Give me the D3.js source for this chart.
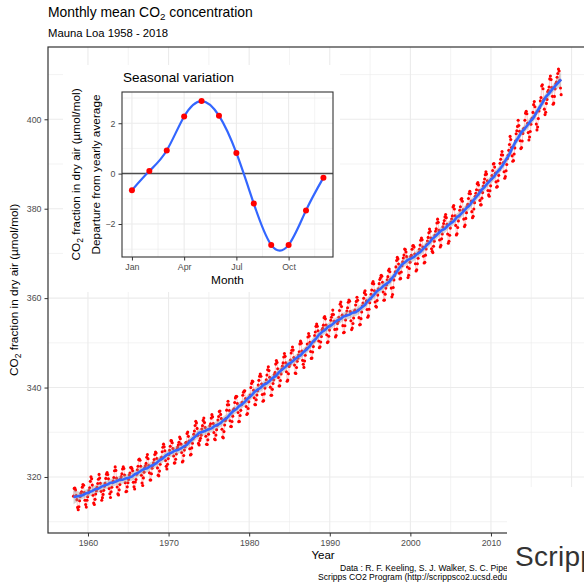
<!DOCTYPE html>
<html><head><meta charset="utf-8">
<script src="https://cdn.jsdelivr.net/npm/d3@7"></script>
<style>
body{margin:0;background:#fff}
svg{display:block}
text{font-family:"Liberation Sans",Arial,Helvetica,sans-serif}
</style>
</head><body>
<svg id="c" width="584" height="585"></svg>
<script>
// ---------------- DATA ----------------
const startYear = 1958, startMonth = 3;
const co2_1950s = [
 [315.71,317.45,317.50,317.10,315.86,314.93,313.20,312.66,313.33,314.67],
 [315.62,316.38,316.71,317.72,318.29,318.15,316.54,314.80,313.84,313.26,314.80,315.58]
];
const co2_1960s = [
 [316.43,316.97,317.58,319.02,320.03,319.59,318.18,315.91,314.16,313.83,315.00,316.19],
 [316.93,317.70,318.54,319.48,320.58,319.77,318.57,316.79,314.80,315.38,316.10,317.01],
 [317.94,318.56,319.68,320.63,321.01,320.55,319.58,317.40,316.26,315.42,316.69,317.69],
 [318.74,319.08,319.86,321.39,322.25,321.47,319.74,317.77,316.21,315.99,317.12,318.31],
 [319.57,320.07,320.73,321.77,322.25,321.89,320.44,318.70,316.70,316.79,317.79,318.71],
 [319.44,320.44,320.89,322.13,322.16,321.87,321.39,318.81,317.81,317.30,318.87,319.42],
 [320.62,321.59,322.39,323.87,324.01,323.75,322.39,320.37,318.64,318.10,319.79,321.08],
 [322.07,322.50,323.04,324.42,325.00,324.09,322.55,320.92,319.31,319.31,320.72,321.96],
 [322.57,323.15,323.89,325.02,325.57,325.36,324.14,322.03,320.41,320.25,321.31,322.84],
 [324.00,324.42,325.64,326.66,327.34,326.76,325.88,323.67,322.38,321.78,322.85,324.11]
];
const co2_1970s = [
 [325.03,325.99,326.87,328.13,328.07,327.66,326.35,324.69,323.10,323.16,323.98,325.13],
 [326.17,326.68,327.18,327.78,328.92,328.57,327.34,325.46,323.36,323.57,324.80,326.01],
 [326.77,327.63,327.75,329.72,330.07,329.09,328.05,326.32,324.93,325.06,326.50,327.55],
 [328.54,329.56,330.30,331.50,332.48,332.07,330.87,329.31,327.51,327.18,328.16,328.64],
 [329.35,330.71,331.48,332.65,333.19,332.16,331.07,329.12,327.32,327.28,328.30,329.58],
 [330.73,331.46,331.90,333.17,333.94,333.45,331.97,329.95,328.50,328.34,329.37,330.58],
 [331.59,332.75,333.52,334.64,334.77,334.00,333.06,330.68,328.95,328.75,330.15,331.62],
 [332.66,333.13,334.95,336.13,336.93,336.17,334.88,332.56,331.29,331.27,332.41,333.60],
 [334.95,335.25,336.66,337.69,338.03,338.01,336.41,334.41,332.37,332.41,333.75,334.90],
 [336.14,336.69,338.27,338.96,339.21,339.26,337.54,335.75,333.98,334.19,335.31,336.81]
];
const co2_1980s = [
 [337.90,338.34,340.01,340.93,341.48,341.33,339.40,337.70,336.19,336.15,337.27,338.32],
 [339.29,340.55,341.61,342.53,343.03,342.54,340.78,338.44,336.95,337.08,338.58,339.88],
 [340.96,341.73,342.81,343.97,344.63,343.79,342.32,340.09,338.28,338.29,339.60,340.90],
 [341.68,342.90,343.33,345.25,346.03,345.63,344.19,342.27,340.35,340.38,341.59,343.05],
 [344.10,344.79,345.52,346.84,347.63,346.98,345.53,343.55,341.40,341.67,343.10,344.70],
 [345.21,346.16,347.74,348.34,349.06,348.38,346.72,345.02,343.27,343.13,344.49,345.88],
 [346.56,347.28,348.01,349.77,350.38,349.93,348.16,346.08,345.22,344.51,345.93,347.22],
 [348.52,348.73,349.73,351.31,352.09,351.53,350.11,348.08,346.52,346.59,347.96,349.16],
 [350.39,351.64,352.41,353.69,354.21,353.72,352.69,350.40,348.92,349.13,350.20,351.41],
 [352.91,353.27,353.96,355.64,355.86,355.37,353.99,351.81,350.05,350.25,351.49,352.85]
];
const co2_1990s = [
 [353.80,355.04,355.73,356.32,357.32,356.34,354.84,353.01,351.31,351.62,353.07,354.33],
 [354.84,355.73,357.23,358.66,359.13,358.13,356.19,353.85,352.25,352.35,353.81,355.12],
 [356.25,357.11,357.86,359.09,359.59,359.33,357.01,354.94,352.96,353.32,354.32,355.57],
 [357.00,357.31,358.47,359.27,360.19,359.52,357.33,355.64,354.03,354.12,355.41,356.91],
 [358.24,358.92,359.99,361.23,361.65,360.81,359.38,357.46,355.73,356.07,357.53,358.98],
 [359.92,360.86,361.83,363.30,363.69,363.19,361.64,359.12,358.17,357.99,359.45,360.68],
 [362.07,363.24,364.17,364.57,365.13,364.92,363.55,361.38,359.54,359.58,360.89,362.24],
 [362.99,364.10,364.81,366.17,366.51,365.89,364.20,362.25,360.29,360.82,362.39,364.08],
 [365.04,365.87,366.99,368.42,369.11,368.78,367.65,365.59,364.28,364.41,365.86,367.24],
 [368.11,368.98,369.63,370.97,370.87,370.31,369.28,366.97,364.59,365.12,366.64,368.05]
];
const co2_2000s = [
 [369.28,369.58,370.93,371.68,371.74,371.42,369.85,367.69,366.07,366.36,367.70,368.92],
 [370.20,370.95,371.86,372.97,373.45,373.07,371.44,369.37,367.87,368.03,369.61,370.98],
 [371.98,372.77,373.58,374.60,375.47,374.97,373.46,371.04,370.47,370.18,371.59,372.75],
 [374.03,374.97,375.53,376.79,377.67,376.95,375.15,372.99,371.44,371.79,373.26,374.36],
 [375.93,376.71,377.34,378.17,378.72,378.00,376.49,374.33,372.29,372.72,374.07,375.66],
 [377.04,377.71,378.39,380.38,380.70,379.93,378.42,376.27,374.14,374.39,375.81,377.27],
 [378.36,379.67,380.44,382.10,382.30,381.67,379.74,377.68,376.00,376.37,377.83,379.12],
 [380.48,381.00,382.28,383.41,383.90,383.35,381.70,379.34,377.98,378.29,379.92,381.36],
 [382.80,383.45,384.24,385.60,385.83,385.33,384.06,381.86,380.86,380.86,382.36,383.61],
 [385.07,385.84,386.66,387.62,388.27,387.74,386.27,384.08,383.09,382.78,384.01,385.11]
];
const co2_2010s = [
 [386.65,387.44,388.56,389.99,390.10,389.31,387.95,386.01,384.82,384.97,386.24,387.46],
 [388.71,390.15,391.06,392.05,392.81,392.00,390.31,388.28,386.83,387.21,388.49,389.89],
 [391.21,391.97,393.06,394.37,396.18,395.49,393.68,391.82,390.63,390.80,392.25,393.60],
 [395.16,396.76,397.44,398.41,399.78,398.61,397.32,395.20,393.45,393.70,395.16,396.84],
 [397.85,398.01,399.77,401.38,401.78,401.25,399.10,397.03,395.38,396.03,397.28,398.91],
 [399.98,400.28,401.54,403.28,403.96,402.80,401.31,398.93,397.63,398.29,400.16,401.85],
 [402.56,404.12,404.87,407.45,407.72,406.83,404.41,402.27,401.05,401.59,403.55,404.45],
 [406.17,406.46,407.22,409.04,409.69,408.88,407.12,405.13,403.37,403.63,405.12,406.81],
 [407.96,408.32,409.41,410.24,411.24,410.79,408.71,406.99,405.51]
];
const yearTicks = [1960,1970,1980,1990,2000,2010,2020];
const co2Ticks = [320,340,360,380,400];

const monthNames = ["Jan","Feb","Mar","Apr","May","Jun","Jul","Aug","Sep","Oct","Nov","Dec"];
const seasonalDeparture = [-0.66,0.10,0.92,2.27,2.88,2.30,0.82,-1.19,-2.83,-2.83,-1.46,-0.16];
const monthTicks = [1,4,7,10];
const departureTicks = [-2,0,2];

// ---------------- BUILD SERIES ----------------
const series = [];
let yearIdx = 0;
[co2_1950s,co2_1960s,co2_1970s,co2_1980s,co2_1990s,co2_2000s,co2_2010s].forEach(dec => dec.forEach(row => {
  const yy = startYear + yearIdx, m0 = yearIdx === 0 ? startMonth : 1;
  row.forEach((v,i) => series.push({t: yy + (m0 + i - 0.5)/12, v}));
  yearIdx++;
}));

// local linear (loess-like) smoother with standard error
const xs = series.map(d => d.t), ys = series.map(d => d.v), n = xs.length, q = 34;
function localFit(x0){
  const d = xs.map(x => Math.abs(x - x0));
  const h = d.slice().sort((a,b)=>a-b)[q-1] * 1.0001;
  let S0=0,S1=0,S2=0,T0=0,T1=0; const ws=[], us=[];
  for (let i=0;i<n;i++){
    const u = xs[i]-x0, r = d[i]/h;
    const w = r < 1 ? Math.pow(1 - r*r*r, 3) : 0;
    ws.push(w); us.push(u);
    S0+=w; S1+=w*u; S2+=w*u*u; T0+=w*ys[i]; T1+=w*u*ys[i];
  }
  const den = S0*S2 - S1*S1;
  const fit = (S2*T0 - S1*T1)/den;
  let l2 = 0;
  for (let i=0;i<n;i++){ if(ws[i]>0){ const l = ws[i]*(S2 - us[i]*S1)/den; l2 += l*l; } }
  return {fit, se: Math.sqrt(l2)};
}
let rss = 0;
for (let i=0;i<n;i++){ const r = ys[i]-localFit(xs[i]).fit; rss += r*r; }
const sigma = Math.sqrt(rss/(n - 2*n/q));
const smooth = d3.range(160).map(i => {
  const t = xs[0] + (xs[n-1]-xs[0])*i/159;
  const f = localFit(t);
  return {t, fit: f.fit, lo: f.fit - 1.96*sigma*f.se, hi: f.fit + 1.96*sigma*f.se};
});

// ---------------- DRAW ----------------
const svg = d3.select("#c");
const P = {l:48, r:598, t:47, b:533};
const x = d3.scaleLinear().domain([1955.04, 2023.28]).range([P.l, P.r]);
const y = d3.scaleLinear().domain([307.47, 416.17]).range([P.b, P.t]);
const LOGO = {x:507, y:487};

svg.append("rect").attr("width",584).attr("height",585).attr("fill","#fff");
const defs = svg.append("defs");

// title / subtitle
const title = svg.append("text").attr("x",48).attr("y",17).attr("font-size",13.9).attr("fill","#000");
title.append("tspan").text("Monthly mean CO");
title.append("tspan").attr("font-size",9.8).attr("dy",3).text("2");
title.append("tspan").attr("dy",-3).text(" concentration");
svg.append("text").attr("x",48).attr("y",37).attr("font-size",11.3).attr("fill","#000").text("Mauna Loa 1958 - 2018");

// grid
defs.append("clipPath").attr("id","pc").append("rect")
  .attr("x",P.l).attr("y",P.t).attr("width",P.r-P.l).attr("height",P.b-P.t);
const g = svg.append("g").attr("clip-path","url(#pc)");
const xMinor = d3.range(1955, 2030, 10), yMinor = d3.range(310, 420, 20);
g.selectAll(".xmn").data(xMinor).join("line").attr("x1",d=>x(d)).attr("x2",d=>x(d)).attr("y1",P.t).attr("y2",P.b).attr("stroke","#EBEBEB").attr("stroke-width",0.6);
g.selectAll(".ymn").data(yMinor).join("line").attr("y1",d=>y(d)).attr("y2",d=>y(d)).attr("x1",P.l).attr("x2",P.r).attr("stroke","#EBEBEB").attr("stroke-width",0.6);
g.selectAll(".xmj").data(yearTicks).join("line").attr("x1",d=>x(d)).attr("x2",d=>x(d)).attr("y1",P.t).attr("y2",P.b).attr("stroke","#EBEBEB").attr("stroke-width",1.1);
g.selectAll(".ymj").data(co2Ticks).join("line").attr("y1",d=>y(d)).attr("y2",d=>y(d)).attr("x1",P.l).attr("x2",P.r).attr("stroke","#EBEBEB").attr("stroke-width",1.1);

// data
g.append("path").datum(series).attr("fill","none").attr("stroke","#FF0000").attr("stroke-opacity",0.45).attr("stroke-width",0.5)
  .attr("d", d3.line().x(d=>x(d.t)).y(d=>y(d.v)));
g.selectAll(".pt").data(series).join("circle").attr("cx",d=>x(d.t)).attr("cy",d=>y(d.v)).attr("r",1.55).attr("fill","#FF0000");
g.append("path").datum(smooth).attr("fill","#999999").attr("fill-opacity",0.4)
  .attr("d", d3.area().x(d=>x(d.t)).y0(d=>y(d.lo)).y1(d=>y(d.hi)));
g.append("path").datum(smooth).attr("fill","none").attr("stroke","#3366FF").attr("stroke-width",2.6)
  .attr("d", d3.line().x(d=>x(d.t)).y(d=>y(d.fit)));

// panel border
svg.append("rect").attr("x",P.l).attr("y",P.t).attr("width",P.r-P.l).attr("height",P.b-P.t)
  .attr("fill","none").attr("stroke","#333333").attr("stroke-width",1.2);

// axes (labels whose ticks fall under the logo are not shown, as in the reference)
const xAxis = d3.axisBottom(x).tickValues(yearTicks.filter(d => x(d) < LOGO.x)).tickSize(3.5).tickPadding(3).tickFormat(d3.format("d"));
const yAxis = d3.axisLeft(y).tickValues(co2Ticks).tickSize(3.5).tickPadding(3);
const gx = svg.append("g").attr("transform",`translate(0,${P.b})`).call(xAxis);
const gy = svg.append("g").attr("transform",`translate(${P.l},0)`).call(yAxis);
[gx,gy].forEach(a => {
  a.select(".domain").remove();
  a.selectAll("line").attr("stroke","#333333");
  a.selectAll("text").attr("fill","#4D4D4D").attr("font-size",8.8).attr("font-family","Liberation Sans, Arial, sans-serif");
});
svg.append("text").attr("x",(P.l+P.r)/2).attr("y",559).attr("text-anchor","middle").attr("font-size",11.5).attr("fill","#000").text("Year");
const yt = svg.append("text").attr("transform","translate(18,290) rotate(-90)").attr("text-anchor","middle").attr("font-size",11.8).attr("fill","#000");
yt.append("tspan").text("CO");
yt.append("tspan").attr("font-size",8.5).attr("dy",3).text("2");
yt.append("tspan").attr("dy",-3).text(" fraction in dry air (µmol/mol)");

// ---------------- INSET ----------------
const I = {l:122, r:333, t:92, b:257};
const ix = d3.scaleLinear().domain([0.43, 12.55]).range([I.l, I.r]);
const iy = d3.scaleLinear().domain([-3.31, 3.24]).range([I.b, I.t]);
svg.append("rect").attr("x",63).attr("y",65).attr("width",277).attr("height",227).attr("fill","#fff");
svg.append("text").attr("x",123).attr("y",82).attr("font-size",13.5).attr("fill","#000").text("Seasonal variation");
const ig = svg.append("g");
ig.selectAll(".ixm").data([2.5,5.5,8.5,11.5]).join("line").attr("x1",d=>ix(d)).attr("x2",d=>ix(d)).attr("y1",I.t).attr("y2",I.b).attr("stroke","#EBEBEB").attr("stroke-width",0.6);
ig.selectAll(".iym").data([-3,-1,1,3]).join("line").attr("y1",d=>iy(d)).attr("y2",d=>iy(d)).attr("x1",I.l).attr("x2",I.r).attr("stroke","#EBEBEB").attr("stroke-width",0.6);
ig.selectAll(".ixj").data(monthTicks).join("line").attr("x1",d=>ix(d)).attr("x2",d=>ix(d)).attr("y1",I.t).attr("y2",I.b).attr("stroke","#EBEBEB").attr("stroke-width",1.1);
ig.selectAll(".iyj").data(departureTicks).join("line").attr("y1",d=>iy(d)).attr("y2",d=>iy(d)).attr("x1",I.l).attr("x2",I.r).attr("stroke","#EBEBEB").attr("stroke-width",1.1);
ig.append("line").attr("x1",I.l).attr("x2",I.r).attr("y1",iy(0)).attr("y2",iy(0)).attr("stroke","#4D4D4D").attr("stroke-width",1.5);
const seas = seasonalDeparture.map((v,i)=>({m:i+1, v}));
ig.append("path").datum(seas).attr("fill","none").attr("stroke","#3366FF").attr("stroke-width",2.2)
  .attr("d", d3.line().x(d=>ix(d.m)).y(d=>iy(d.v)).curve(d3.curveNatural));
ig.selectAll(".ipt").data(seas).join("circle").attr("cx",d=>ix(d.m)).attr("cy",d=>iy(d.v)).attr("r",3).attr("fill","#FF0000");
svg.append("rect").attr("x",I.l).attr("y",I.t).attr("width",I.r-I.l).attr("height",I.b-I.t).attr("fill","none").attr("stroke","#333333").attr("stroke-width",1.1);
const ixa = svg.append("g").attr("transform",`translate(0,${I.b})`).call(d3.axisBottom(ix).tickValues(monthTicks).tickSize(3.5).tickPadding(3).tickFormat(d=>monthNames[d-1]));
const iya = svg.append("g").attr("transform",`translate(${I.l},0)`).call(d3.axisLeft(iy).tickValues(departureTicks).tickSize(3.5).tickPadding(3).tickFormat(d3.format("d")));
[ixa,iya].forEach(a => {
  a.select(".domain").remove();
  a.selectAll("line").attr("stroke","#333333");
  a.selectAll("text").attr("fill","#4D4D4D").attr("font-size",8.8).attr("font-family","Liberation Sans, Arial, sans-serif");
});
svg.append("text").attr("x",(I.l+I.r)/2).attr("y",284).attr("text-anchor","middle").attr("font-size",11.8).attr("fill","#000").text("Month");
const it1 = svg.append("text").attr("transform",`translate(80,${(I.t+I.b)/2}) rotate(-90)`).attr("text-anchor","middle").attr("font-size",11.8).attr("fill","#000");
it1.append("tspan").text("CO");
it1.append("tspan").attr("font-size",8.5).attr("dy",3).text("2");
it1.append("tspan").attr("dy",-3).text(" fraction in dry air (µmol/mol)");
svg.append("text").attr("transform",`translate(100,${(I.t+I.b)/2}) rotate(-90)`).attr("text-anchor","middle").attr("font-size",11.8).attr("fill","#000").text("Departure from yearly average");

// ---------------- CAPTION & LOGO ----------------
defs.append("clipPath").attr("id","capclip").append("rect").attr("x",0).attr("y",560).attr("width",LOGO.x).attr("height",25);
const cap = svg.append("g").attr("clip-path","url(#capclip)");
cap.append("text").attr("x",340).attr("y",571).attr("font-size",8.6).attr("fill","#000").text("Data : R. F. Keeling, S. J. Walker, S. C. Piper and A. F. Bollenbacher");
cap.append("text").attr("x",318).attr("y",580).attr("font-size",8.6).attr("fill","#000").text("Scripps CO2 Program (http://scrippsco2.ucsd.edu)");
svg.append("rect").attr("x",LOGO.x).attr("y",LOGO.y).attr("width",80).attr("height",100).attr("fill","#fff");
svg.append("text").attr("x",515).attr("y",566).attr("font-size",28).attr("fill","#333").attr("letter-spacing",0.3).text("Scripps");
</script>
</body></html>
